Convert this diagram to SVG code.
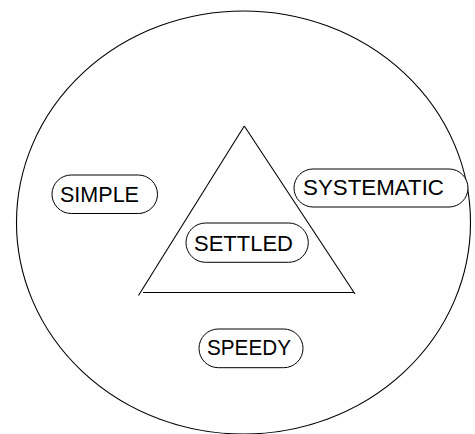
<svg xmlns="http://www.w3.org/2000/svg" width="475" height="434" viewBox="0 0 475 434">
<style>
.shape{fill:none;stroke:#000;stroke-width:1.1}
.pill{fill:#fff;stroke:#000;stroke-width:1}
.lbl{font-family:"Liberation Sans",Arial,sans-serif;font-size:21.5px;fill:#000}
</style>
<rect width="475" height="434" fill="#fff"/>
<g id="outer">
<ellipse class="shape" cx="243.5" cy="222.5" rx="227" ry="211.5"/>
</g>
<g id="triangle">
<line class="shape" x1="244.3" y1="126" x2="138.5" y2="295.5"/>
<line class="shape" x1="244.3" y1="126" x2="355" y2="294"/>
<line class="shape" x1="143" y1="292.5" x2="354" y2="292.5"/>
</g>
<g id="simple">
<rect class="pill" x="52" y="175" width="105.5" height="38.5" rx="19.25"/>
<text class="lbl" x="60" y="202" textLength="79" lengthAdjust="spacingAndGlyphs">SIMPLE</text>
</g>
<g id="systematic">
<rect class="pill" x="294" y="169" width="174" height="38" rx="19"/>
<text class="lbl" x="303" y="195.3" textLength="141" lengthAdjust="spacingAndGlyphs">SYSTEMATIC</text>
</g>
<g id="settled">
<rect class="pill" x="186" y="223" width="122.3" height="39.3" rx="19.6"/>
<text class="lbl" x="194" y="250.7" textLength="99" lengthAdjust="spacingAndGlyphs">SETTLED</text>
</g>
<g id="speedy">
<rect class="pill" x="199" y="329" width="104" height="38.7" rx="19.3"/>
<text class="lbl" x="207" y="355.3" textLength="84" lengthAdjust="spacingAndGlyphs">SPEEDY</text>
</g>
<g id="connectors"></g>
</svg>
